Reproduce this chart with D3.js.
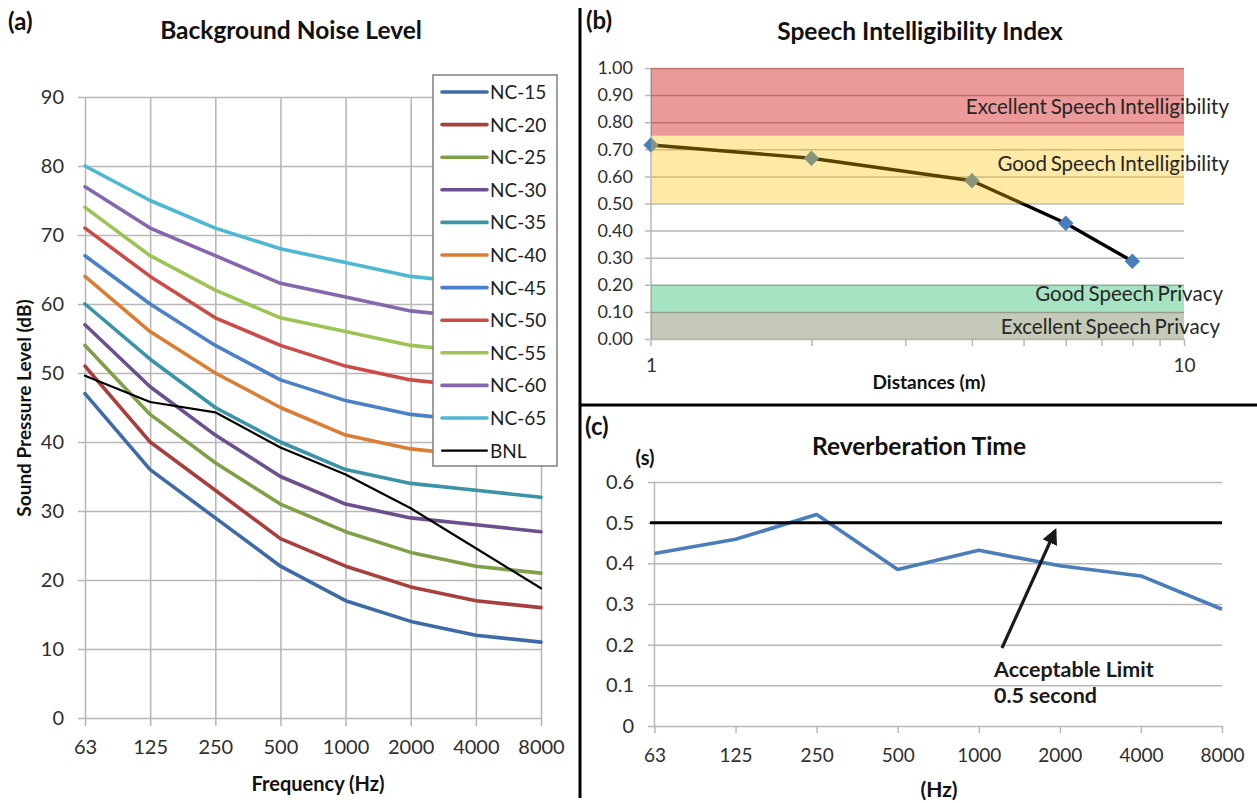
<!DOCTYPE html>
<html>
<head>
<meta charset="utf-8">
<script src="https://cdn.jsdelivr.net/npm/d3@7"></script>
<style>
  html, body { margin: 0; padding: 0; background: #fff; }
  svg { display: block; font-family: Lato, "Liberation Sans", sans-serif; }
</style>
</head>
<body>
<svg id="fig" width="1257" height="803"></svg>
<script>
// ---------- (a) Background noise level: NC curves + measured BNL ----------
const octaveBands = ["63", "125", "250", "500", "1000", "2000", "4000", "8000"];
const splTicks = [0, 10, 20, 30, 40, 50, 60, 70, 80, 90];

const ncNames = ["NC-15", "NC-20", "NC-25", "NC-30", "NC-35", "NC-40",
                 "NC-45", "NC-50", "NC-55", "NC-60", "NC-65", "BNL"];
const nc15 = [47, 36, 29, 22, 17, 14, 12, 11];
const nc20 = [51, 40, 33, 26, 22, 19, 17, 16];
const nc25 = [54, 44, 37, 31, 27, 24, 22, 21];
const nc30 = [57, 48, 41, 35, 31, 29, 28, 27];
const nc35 = [60, 52, 45, 40, 36, 34, 33, 32];
const nc40 = [64, 56, 50, 45, 41, 39, 38, 37];
const nc45 = [67, 60, 54, 49, 46, 44, 43, 42];
const nc50 = [71, 64, 58, 54, 51, 49, 48, 47];
const nc55 = [74, 67, 62, 58, 56, 54, 53, 52];
const nc60 = [77, 71, 67, 63, 61, 59, 58, 57];
const nc65 = [80, 75, 71, 68, 66, 64, 63, 62];
const bnl  = [49.6, 45.8, 44.3, 39.2, 35.3, 30.4, 24.6, 18.8];
const ncColors = ["#3e6ba8", "#a83f3c", "#7fa046", "#6b4f8e", "#3a93a6", "#dc7d34",
                  "#4a81c8", "#cc4b48", "#9cc454", "#8567ae", "#4db8d4", "#000000"];

// ---------- (b) Speech intelligibility index vs distance ----------
const distances = [1, 2, 4, 6, 8];
const sii = [0.716, 0.667, 0.584, 0.427, 0.287];
const siiTicks = [0, 0.1, 0.2, 0.3, 0.4, 0.5, 0.6, 0.7, 0.8, 0.9, 1.0];
const zoneNames = ["Excellent Speech Intelligibility", "Good Speech Intelligibility",
                   "Good Speech Privacy", "Excellent Speech Privacy"];
const zoneLow  = [0.75, 0.5, 0.1, 0.0];
const zoneHigh = [1.0, 0.75, 0.2, 0.1];
const zoneFills = ["rgba(204,0,0,0.40)", "rgba(255,192,0,0.35)",
                   "rgba(0,176,80,0.35)", "rgba(90,100,50,0.35)"];

// ---------- (c) Reverberation time ----------
const rt = [0.424, 0.459, 0.520, 0.385, 0.432, 0.394, 0.369, 0.287];
const rtTicks = [0, 0.1, 0.2, 0.3, 0.4, 0.5, 0.6];
const rtLimit = 0.5;

const svg = d3.select("#fig");
const gridColor = "#b8b8b8";
const tickColor = "#2e2e2e";
const inkColor = "#111";

// panel dividers
svg.append("line").attr("x1", 580).attr("x2", 580).attr("y1", 8).attr("y2", 798)
  .attr("stroke", "#000").attr("stroke-width", 3);
svg.append("line").attr("x1", 580).attr("x2", 1257).attr("y1", 405).attr("y2", 405)
  .attr("stroke", "#000").attr("stroke-width", 3);

function panelTag(x, y, t) {
  svg.append("text").attr("x", x).attr("y", y).text(t)
    .attr("font-size", 24).attr("font-weight", 700).attr("fill", inkColor);
}
function title(x, y, t) {
  svg.append("text").attr("x", x).attr("y", y).text(t).attr("text-anchor", "middle")
    .attr("font-size", 24.5).attr("font-weight", 700).attr("fill", inkColor);
}
function styleTicks(s, size) {
  s.select(".domain").remove();
  s.selectAll("text").attr("font-size", size).attr("fill", tickColor)
    .attr("font-family", "Lato, sans-serif");
}

// ===================== panel (a) =====================
{
  const x = d3.scalePoint().domain(octaveBands).range([85, 541]);
  const y = d3.scaleLinear().domain([0, 90]).range([718, 97]);
  const g = svg.append("g");

  panelTag(8, 30, "(a)");
  title(291, 39, "Background Noise Level");

  // gridlines
  g.append("g").attr("transform", "translate(541,0)")
    .call(d3.axisLeft(y).tickValues(splTicks).tickSize(541 - 78).tickFormat(""))
    .call(s => s.select(".domain").remove())
    .call(s => s.selectAll("line").attr("stroke", gridColor).attr("stroke-width", 1.6));
  g.append("g").attr("transform", "translate(0,726)")
    .call(d3.axisTop(x).tickSize(726 - 97).tickFormat(""))
    .call(s => s.select(".domain").remove())
    .call(s => s.selectAll("line").attr("stroke", gridColor).attr("stroke-width", 1.6));

  // tick labels
  g.append("g").attr("transform", "translate(64,0)")
    .call(d3.axisLeft(y).tickValues(splTicks).tickSize(0).tickPadding(0))
    .call(s => styleTicks(s, 20));
  g.append("g").attr("transform", "translate(0,740)")
    .call(d3.axisBottom(x).tickSize(0).tickPadding(0))
    .call(s => styleTicks(s, 20));

  svg.append("text").attr("transform", "translate(31,408) rotate(-90)")
    .attr("text-anchor", "middle").attr("font-size", 19).attr("font-weight", 700)
    .attr("fill", inkColor).text("Sound Pressure Level (dB)");
  svg.append("text").attr("x", 318).attr("y", 791)
    .attr("text-anchor", "middle").attr("font-size", 20).attr("font-weight", 700)
    .attr("fill", inkColor).text("Frequency (Hz)");

  const series = [nc15, nc20, nc25, nc30, nc35, nc40, nc45, nc50, nc55, nc60, nc65, bnl];
  const line = d3.line().x((d, i) => x(octaveBands[i])).y(d => y(d));
  series.forEach((vals, k) => {
    g.append("path").datum(vals).attr("d", line).attr("fill", "none")
      .attr("stroke", ncColors[k]).attr("stroke-width", k === 11 ? 2.2 : 3.6)
      .attr("stroke-linejoin", "round").attr("stroke-linecap", "round");
  });

  // legend
  const lg = svg.append("g");
  lg.append("rect").attr("x", 433).attr("y", 75).attr("width", 124).attr("height", 391)
    .attr("fill", "#fff").attr("stroke", "#7f7f7f").attr("stroke-width", 1.5);
  ncNames.forEach((n, k) => {
    const yy = 92 + k * 32.6;
    lg.append("line").attr("x1", 442).attr("x2", 487).attr("y1", yy).attr("y2", yy)
      .attr("stroke", ncColors[k]).attr("stroke-width", k === 11 ? 2.2 : 3.6)
      .attr("stroke-linecap", "round");
    lg.append("text").attr("x", 490).attr("y", yy + 7).text(n)
      .attr("font-size", 19).attr("fill", "#1e1e1e");
  });
}

// ===================== panel (b) =====================
{
  const x = d3.scaleLog().domain([1, 10]).range([651, 1184]);
  const y = d3.scaleLinear().domain([0, 1]).range([339, 68]);
  const g = svg.append("g");

  panelTag(586, 29, "(b)");
  title(920, 40, "Speech Intelligibility Index");

  g.append("g").attr("transform", "translate(1184,0)")
    .call(d3.axisLeft(y).tickValues(siiTicks).tickSize(1184 - 645).tickFormat(""))
    .call(s => s.select(".domain").remove())
    .call(s => s.selectAll("line").attr("stroke", gridColor).attr("stroke-width", 1.5));
  g.append("line").attr("x1", x(1)).attr("x2", x(1)).attr("y1", y(1)).attr("y2", 346)
    .attr("stroke", gridColor).attr("stroke-width", 1.5);
  g.append("g").attr("transform", "translate(0,339)")
    .call(d3.axisBottom(x).tickValues(d3.range(2, 11)).tickSize(7).tickFormat(""))
    .call(s => s.select(".domain").remove())
    .call(s => s.selectAll("line").attr("stroke", gridColor).attr("stroke-width", 1.5));

  g.append("g").attr("transform", "translate(633,0)")
    .call(d3.axisLeft(y).tickValues(siiTicks).tickSize(0).tickPadding(0).tickFormat(d3.format(".2f")))
    .call(s => styleTicks(s, 18));
  g.append("g").attr("transform", "translate(0,358)")
    .call(d3.axisBottom(x).tickValues([1, 10]).tickSize(0).tickPadding(0).tickFormat(d3.format("d")))
    .call(s => styleTicks(s, 19));

  svg.append("text").attr("x", 929).attr("y", 389)
    .attr("text-anchor", "middle").attr("font-size", 19).attr("font-weight", 700)
    .attr("fill", inkColor).text("Distances (m)");

  // measured SII
  const line = d3.line().x(d => x(d[0])).y(d => y(d[1]));
  const pts = distances.map((d, i) => [d, sii[i]]);
  g.append("path").datum(pts).attr("d", line).attr("fill", "none")
    .attr("stroke", "#000").attr("stroke-width", 3.4).attr("stroke-linejoin", "round");
  g.selectAll("path.mk").data(pts).join("path").attr("class", "mk")
    .attr("d", d3.symbol(d3.symbolDiamond2, 150)())
    .attr("transform", d => `translate(${x(d[0])},${y(d[1])})`)
    .attr("fill", "#4a7ebb");

  // rating zones, translucent over the data
  zoneNames.forEach((n, k) => {
    g.append("rect").attr("x", x(1)).attr("width", x(10) - x(1))
      .attr("y", y(zoneHigh[k])).attr("height", y(zoneLow[k]) - y(zoneHigh[k]))
      .attr("fill", zoneFills[k]);
  });
  const labelY = [114, 171, 301, 334];
  const labelX = [1229, 1229, 1223, 1220];
  zoneNames.forEach((n, k) => {
    g.append("text").attr("x", labelX[k]).attr("y", labelY[k]).text(n)
      .attr("text-anchor", "end").attr("font-size", 20.5).attr("fill", "#262626")
      .attr("word-spacing", -1.5);
  });
}

// ===================== panel (c) =====================
{
  const x = d3.scalePoint().domain(octaveBands).range([654.5, 1222]);
  const y = d3.scaleLinear().domain([0, 0.6]).range([726, 482]);
  const g = svg.append("g");

  panelTag(585, 435, "(c)");
  title(919, 455, "Reverberation Time");

  g.append("g").attr("transform", "translate(1222,0)")
    .call(d3.axisLeft(y).tickValues(rtTicks).tickSize(1222 - 648).tickFormat(""))
    .call(s => s.select(".domain").remove())
    .call(s => s.selectAll("line").attr("stroke", gridColor).attr("stroke-width", 1.5));
  g.append("line").attr("x1", x("63")).attr("x2", x("63")).attr("y1", y(0.6)).attr("y2", y(0))
    .attr("stroke", gridColor).attr("stroke-width", 1.5);
  g.append("g").attr("transform", "translate(0,726)")
    .call(d3.axisBottom(x).tickSize(7).tickFormat(""))
    .call(s => s.select(".domain").remove())
    .call(s => s.selectAll("line").attr("stroke", gridColor).attr("stroke-width", 1.5));

  g.append("g").attr("transform", "translate(634,0)")
    .call(d3.axisLeft(y).tickValues(rtTicks).tickSize(0).tickPadding(0).tickFormat(d3.format("")))
    .call(s => styleTicks(s, 20));
  g.append("g").attr("transform", "translate(0,748)")
    .call(d3.axisBottom(x).tickSize(0).tickPadding(0))
    .call(s => styleTicks(s, 19));

  svg.append("text").attr("x", 645).attr("y", 465).attr("text-anchor", "middle")
    .attr("font-size", 20).attr("font-weight", 700).attr("fill", inkColor).text("(s)");
  svg.append("text").attr("x", 939).attr("y", 797).attr("text-anchor", "middle")
    .attr("font-size", 21).attr("font-weight", 700).attr("fill", inkColor).text("(Hz)");

  const line = d3.line().x((d, i) => x(octaveBands[i])).y(d => y(d));
  g.append("path").datum(rt).attr("d", line).attr("fill", "none")
    .attr("stroke", "#4a7ebb").attr("stroke-width", 3.6).attr("stroke-linejoin", "round");

  // acceptable limit
  g.append("line").attr("x1", 650).attr("x2", 1222).attr("y1", y(rtLimit)).attr("y2", y(rtLimit))
    .attr("stroke", "#000").attr("stroke-width", 3);

  // annotation arrow pointing at the limit line
  const defs = svg.append("defs");
  defs.append("marker").attr("id", "ah").attr("viewBox", "0 0 10 10")
    .attr("refX", 8).attr("refY", 5).attr("markerWidth", 5).attr("markerHeight", 5)
    .attr("orient", "auto")
    .append("path").attr("d", "M0,0 L10,5 L0,10 Z").attr("fill", "#1a1a1a");
  g.append("line").attr("x1", 1002).attr("y1", 648).attr("x2", 1055).attr("y2", 531)
    .attr("stroke", "#1a1a1a").attr("stroke-width", 3.2).attr("marker-end", "url(#ah)");

  g.append("text").attr("x", 994).attr("y", 677).attr("font-size", 21.5).attr("font-weight", 700)
    .attr("fill", "#1a1a1a").text("Acceptable Limit");
  g.append("text").attr("x", 994).attr("y", 703).attr("font-size", 21.5).attr("font-weight", 700)
    .attr("fill", "#1a1a1a").text(rtLimit + " second");
}
</script>
</body>
</html>
